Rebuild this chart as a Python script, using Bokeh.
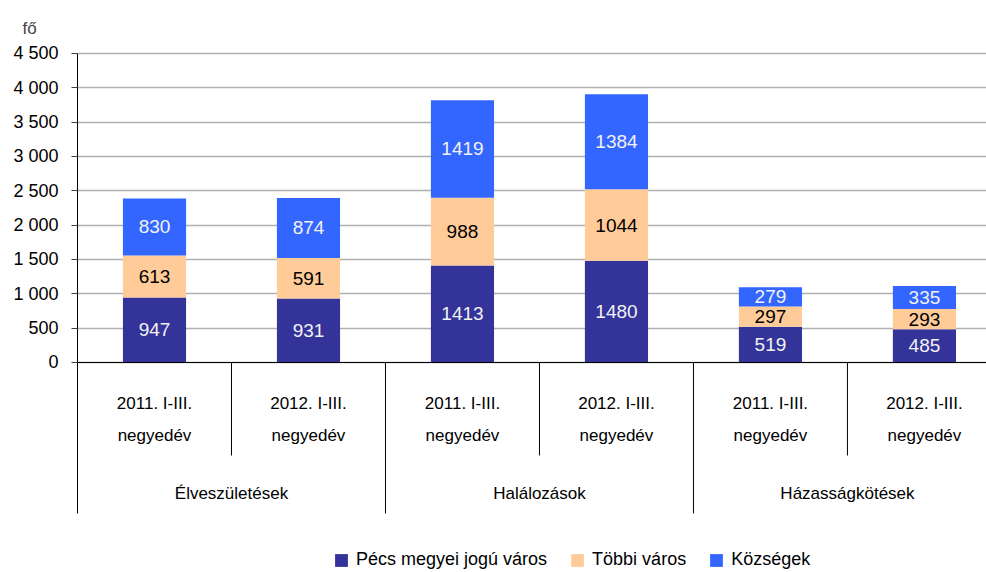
from bokeh.plotting import figure
from bokeh.models import (ColumnDataSource, Range1d, FixedTicker, Span, Title,
                          Legend, LegendItem)
from bokeh.core.properties import value
from bokeh.embed import file_html
from bokeh.resources import INLINE

# ---- data ----
groups = ["Élveszületések", "Halálozások", "Házasságkötések"]
periods = ["2011. I-III.", "2012. I-III."]
period_sub = "negyedév"
series_names = ["Pécs megyei jogú város", "Többi város", "Községek"]
pecs = [947, 931, 1413, 1480, 519, 485]
tobbi = [613, 591, 988, 1044, 297, 293]
kozsegek = [830, 874, 1419, 1384, 279, 335]
y_ticks = [0, 500, 1000, 1500, 2000, 2500, 3000, 3500, 4000, 4500]
y_tick_labels = ["0", "500", "1 000", "1 500", "2 000", "2 500", "3 000",
                 "3 500", "4 000", "4 500"]
unit_label = "fő"

colors = ["#333399", "#FFCC99", "#3366FF"]
label_colors = ["#F2F2F2", "#000000", "#F2F2F2"]
FONT = "Liberation Sans"

n = len(pecs)
xs = [i + 0.5 for i in range(n)]

# frame: x 77..986 px, y 45..572 px ; 0 at 362 px, 4500 at 53 px
p = figure(frame_width=909, frame_height=527, output_backend="svg",
           toolbar_location=None,
           x_range=Range1d(0, 5.903), y_range=Range1d(-3058.3, 4616.5),
           min_border_left=77, min_border_right=0, min_border_top=45,
           min_border_bottom=0)
p.outline_line_color = None
p.xaxis.visible = False
p.xgrid.visible = False

p.add_layout(Title(text=unit_label, align="left", offset=-55,
                   text_font=FONT, text_font_size="17px",
                   text_font_style="normal", standoff=16), "above")

yax = p.yaxis[0]
yax.ticker = FixedTicker(ticks=y_ticks)
yax.major_label_overrides = {t: l for t, l in zip(y_ticks, y_tick_labels)}
yax.bounds = (-2199, 4500)
yax.axis_line_color = "#000000"
yax.major_tick_line_color = "#404040"
yax.major_tick_out = 6
yax.major_tick_in = 0
yax.minor_tick_line_color = None
yax.major_label_standoff = 13
yax.major_label_text_font = FONT
yax.major_label_text_font_size = "18px"
yax.major_label_text_color = "#000000"

p.ygrid.grid_line_color = "#B0B0B0"
p.ygrid.grid_line_width = 1.5
p.ygrid.bounds = (0, 4500)

# stacked bars
src = ColumnDataSource(dict(x=xs, a=pecs, b=tobbi, c=kozsegek))
stack_keys = ["a", "b", "c"]
renderers = p.vbar_stack(stack_keys, x="x", width=0.41, color=colors,
                         line_color=None, source=src)

# value labels
bottoms = [0] * n
for vals, lc in zip([pecs, tobbi, kozsegek], label_colors):
    mids = [b + v / 2 for b, v in zip(bottoms, vals)]
    p.text(x=xs, y=mids, text=[str(v) for v in vals], text_align="center",
           text_baseline="middle", text_color=lc, text_font=value(FONT),
           text_font_size="19px")
    bottoms = [b + v for b, v in zip(bottoms, vals)]

# zero line
p.add_layout(Span(location=0, dimension="width", line_color="#000000",
                  line_width=1.2))

# category table separators
sub_sep = [1, 3, 5]
grp_sep = [2, 4, 6]
p.segment(x0=sub_sep, x1=sub_sep, y0=[0] * 3, y1=[-1354] * 3,
          line_color="#000000", line_width=1)
p.segment(x0=grp_sep, x1=grp_sep, y0=[0] * 3, y1=[-2199] * 3,
          line_color="#000000", line_width=1)

# category labels
period_texts = [periods[i % 2] for i in range(n)]
p.text(x=xs, y=[-593] * n, text=period_texts, text_align="center",
       text_baseline="middle", text_font=value(FONT), text_font_size="17px",
       text_color="#000000")
p.text(x=xs, y=[-1063] * n, text=[period_sub] * n, text_align="center",
       text_baseline="middle", text_font=value(FONT), text_font_size="17px",
       text_color="#000000")
gx = [1.0, 3.0, 5.0]
p.text(x=gx, y=[-1908] * 3, text=groups, text_align="center",
       text_baseline="middle", text_font=value(FONT), text_font_size="17px",
       text_color="#000000")

# legend
legend = Legend(items=[LegendItem(label=nm, renderers=[r])
                       for nm, r in zip(series_names, renderers)],
                orientation="horizontal", location=(256, 2),
                glyph_width=16, glyph_height=16, label_standoff=7,
                spacing=22, padding=0, margin=0,
                border_line_color=None, background_fill_alpha=0,
                label_text_font=FONT, label_text_font_size="18px",
                label_text_color="#000000")
p.add_layout(legend)

open("out.html", "w").write(file_html(p, INLINE))
